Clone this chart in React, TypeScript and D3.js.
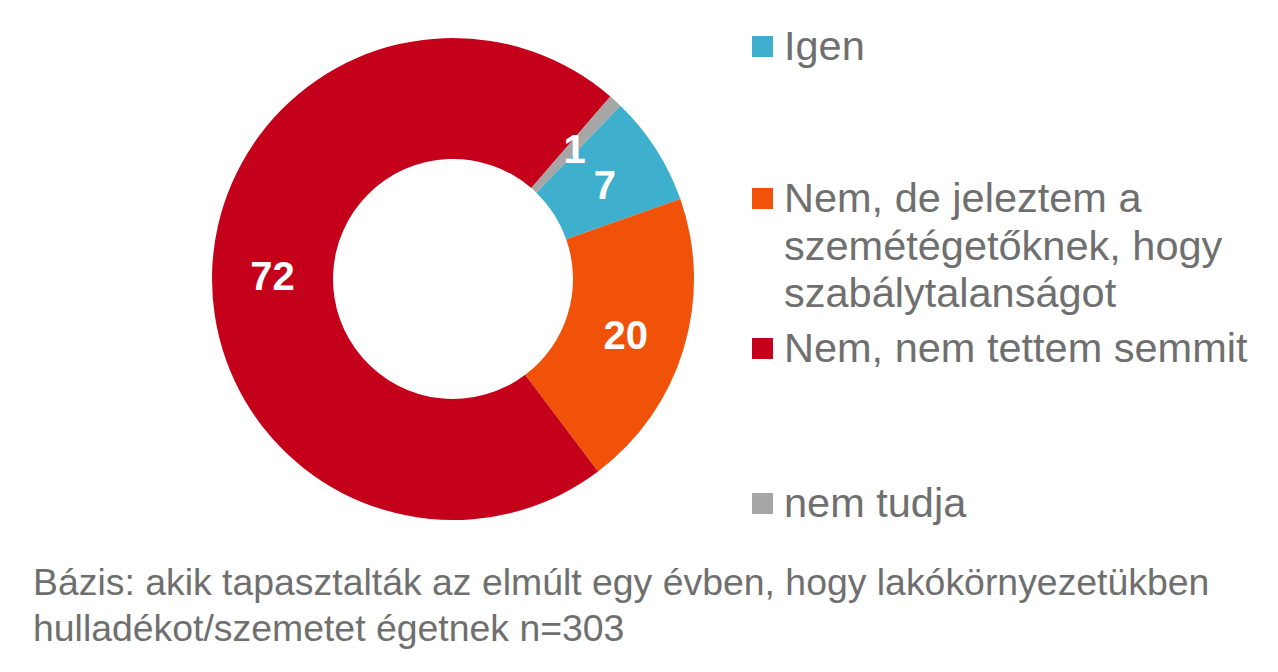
import React from 'react';
import * as d3 from 'd3';

// answers, in legend order (percent)
const categories = [
  ['Igen'],
  ['Nem, de jeleztem a', 'szemétégetőknek, hogy', 'szabálytalanságot'],
  ['Nem, nem tettem semmit'],
  ['nem tudja'],
];
const values = [7.4, 20.1, 71.6, 0.9];
const colors = ['#3EB0CD', '#F0520A', '#C5001A', '#A6A6A6'];
const footnote = [
  'Bázis: akik tapasztalták az elmúlt egy évben, hogy lakókörnyezetükben',
  'hulladékot/szemetet égetnek n=303',
];

const WIDTH = 1278;
const HEIGHT = 672;
const FONT = '"Liberation Sans", Arial, sans-serif';

// legend first-line baselines
const legendBaselines = [60, 212, 362, 517];

const App: React.FC = () => {
  const cx = 453;
  const cy = 279;
  const outer = 241;
  const inner = 120;
  const start = (44 * Math.PI) / 180;

  const pie = d3
    .pie<number>()
    .sort(null)
    .startAngle(start)
    .endAngle(start + 2 * Math.PI);
  const arcs = pie(values);
  const arc = d3.arc<d3.PieArcDatum<number>>().innerRadius(inner).outerRadius(outer);

  return (
    <svg
      width={WIDTH}
      height={HEIGHT}
      style={{ position: 'absolute', left: 0, top: 0, background: '#fff' }}
      fontFamily={FONT}
    >
      <g transform={`translate(${cx},${cy})`}>
        {arcs.map((a, i) => (
          <path key={i} d={arc(a) || ''} fill={colors[i]} />
        ))}
        {arcs.map((a, i) => {
          const [x, y] = arc.centroid(a);
          return (
            <text
              key={'l' + i}
              x={x}
              y={y + 3}
              dy="0.36em"
              textAnchor="middle"
              fill="#fff"
              fontWeight="bold"
              fontSize={40}
            >
              {Math.round(values[i])}
            </text>
          );
        })}
      </g>

      {/* Legend */}
      {categories.map((lines, i) => (
        <g key={'g' + i}>
          <rect x={752} y={legendBaselines[i] - 24} width={21} height={21} fill={colors[i]} />
          <text x={784} y={legendBaselines[i]} fontSize={41.5} fill="#6F6F6F">
            {lines.map((line, j) => (
              <tspan key={j} x={784} dy={j === 0 ? 0 : 47.5}>
                {line}
              </tspan>
            ))}
          </text>
        </g>
      ))}

      {/* Base note */}
      <text x={33} y={595} fontSize={37.4} fill="#6F6F6F">
        {footnote.map((line, j) => (
          <tspan key={j} x={33} dy={j === 0 ? 0 : 46}>
            {line}
          </tspan>
        ))}
      </text>
    </svg>
  );
};

export default App;
